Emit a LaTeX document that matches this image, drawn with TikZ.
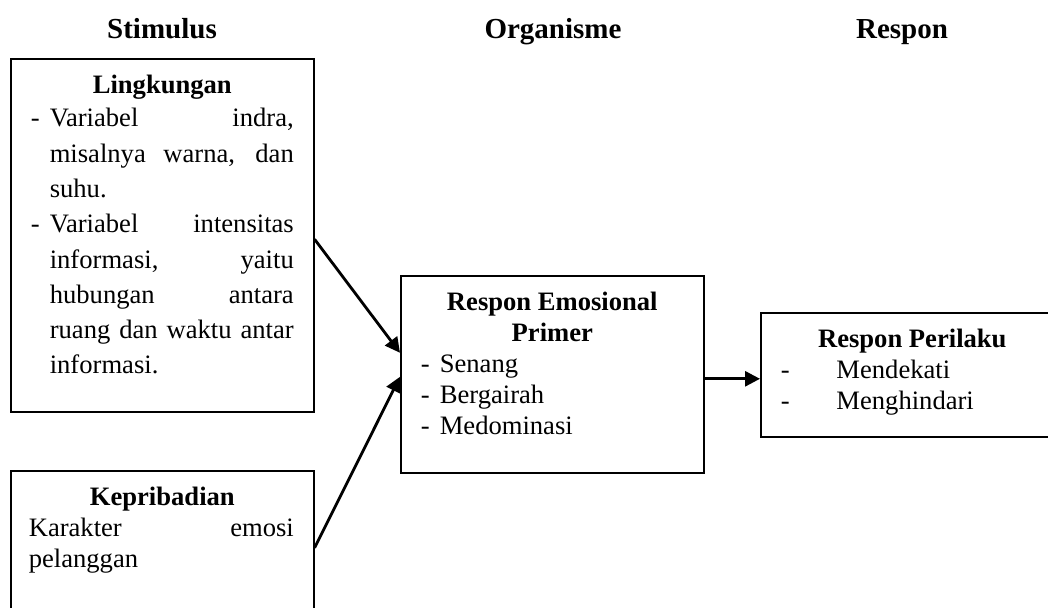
\documentclass[tikz,border=0pt]{standalone}
\usepackage{fontspec}
\setmainfont{Liberation Serif}
\usetikzlibrary{arrows.meta}
\newcommand{\listdash}[1][21pt]{\par\hangindent=#1\hangafter=1\noindent\makebox[#1][l]{\hspace{2pt}-}}
\newcommand{\boxpar}{\leftskip=18pt\rightskip=20pt\parfillskip=0pt plus 1fil\hyphenpenalty=10000\relax}

\begin{document}
\begin{tikzpicture}[x=1pt, y=-1pt,
    box/.style={draw, line width=1.6pt, inner xsep=0pt, inner ysep=0pt,
      anchor=north west, text width=303pt, text height=35pt, align=justify,
      font=\fontsize{26.6pt}{31pt}\selectfont},
    head/.style={anchor=base, font=\fontsize{29pt}{33pt}\selectfont\bfseries},
    conn/.style={line width=2.8pt, -{Triangle[length=15pt, width=15pt]}}]
    \useasboundingbox (0,0) rectangle (1048,607);
    \clip (0,0) rectangle (1048,607);
    % Column headings
    \node(stimulus) [head] at (162,39) {Stimulus};
    \node(organisme)[head] at (553,39) {Organisme};
    \node(respon)   [head] at (902,39) {Respon};
    \begin{scope}
      % Stimulus
      \node(lingk)[box, text depth=318pt] at (10,58) {%
        \boxpar\fontsize{26.6pt}{35.3pt}\selectfont
        {\centering\bfseries Lingkungan\par}\vspace{-2.3pt}
        \listdash Variabel indra,\linebreak misalnya warna, dan\linebreak suhu.
        \listdash Variabel intensitas\linebreak informasi, yaitu\linebreak
        hubungan antara\linebreak ruang dan waktu antar\linebreak informasi.\par};
      \node(kepri)[box, text depth=119pt] at (10,470) {%
        \boxpar{\centering\bfseries Kepribadian\par}
        \noindent Karakter emosi\linebreak pelanggan\par};
    \end{scope}
    \begin{scope}
      % Organisme
      \node(emo)[box, text depth=162pt] at (400,275) {%
        \boxpar{\centering\bfseries Respon Emosional\\Primer\par}
        \listdash Senang
        \listdash Bergairah
        \listdash Medominasi\par};
    \end{scope}
    \begin{scope}
      % Respon
      \node(peril)[box, text depth=89pt] at (760,312) {%
        \boxpar{\centering\bfseries Respon Perilaku\par}
        \listdash[51pt] Mendekati
        \listdash[51pt] Menghindari\par};
    \end{scope}
    \path ([yshift=-4pt]lingk.east) edge[conn] ([yshift=21.5pt]emo.west);
    \path (kepri.east) edge[conn] ([yshift=-2.5pt]emo.west);
    \path ([yshift=-4.5pt]emo.east) edge[conn] ([yshift=-4pt]peril.west);
\end{tikzpicture}
\end{document}
